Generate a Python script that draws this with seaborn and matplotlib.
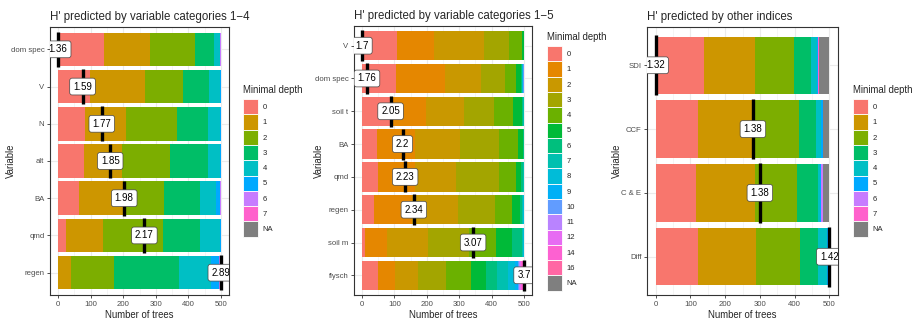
import numpy as np
import pandas as pd
import matplotlib
matplotlib.use("Agg")
import matplotlib.pyplot as plt
from matplotlib.patches import Patch
import seaborn as sns

# ---- data (counts of trees per minimal depth) ----
depths_a = ['0', '1', '2', '3', '4', '5', '6', '7', 'NA']
depths_b = ['0', '1', '2', '3', '4', '5', '6', '7', '8', '9', '10', '11', '12', '14', '16', 'NA']

p1_title = "H' predicted by variable categories 1\u22124"
p1_vars = ['dom spec', 'V', 'N', 'alt', 'BA', 'qmd', 'regen']
p1_counts = [
    [142, 141, 138, 57, 18, 2, 1, 1, 0],
    [98, 168, 119, 80, 32, 2, 1, 0, 0],
    [84, 123, 159, 94, 38, 1, 1, 0, 0],
    [78, 118, 148, 116, 37, 2, 1, 0, 0],
    [65, 135, 124, 111, 50, 11, 4, 0, 0],
    [25, 113, 185, 112, 62, 3, 0, 0, 0],
    [1, 38, 132, 199, 100, 23, 4, 3, 0],
]
p1_mean_labels = ['1.36', '1.59', '1.77', '1.85', '1.98', '2.17', '2.89']
p1_mean_pos = [0, 75, 134, 160, 203, 265, 500]

p2_title = "H' predicted by variable categories 1\u22125"
p2_vars = ['V', 'dom spec', 'soil t', 'BA', 'qmd', 'regen', 'soil m', 'flysch']
p2_counts = [
    [109, 114, 155, 77, 38, 7, 0, 0, 0, 0, 0, 0, 0, 0, 0, 0],
    [104, 151, 112, 75, 35, 13, 3, 2, 2, 1, 2, 0, 0, 0, 0, 0],
    [96, 103, 115, 95, 58, 28, 3, 2, 0, 0, 0, 0, 0, 0, 0, 0],
    [47, 116, 141, 119, 58, 15, 3, 1, 0, 0, 0, 0, 0, 0, 0, 0],
    [49, 114, 128, 132, 54, 15, 6, 2, 0, 0, 0, 0, 0, 0, 0, 0],
    [37, 118, 141, 114, 52, 26, 7, 3, 2, 0, 0, 0, 0, 0, 0, 0],
    [8, 70, 126, 126, 85, 47, 31, 4, 2, 0, 1, 0, 0, 0, 0, 0],
    [48, 53, 71, 87, 76, 47, 36, 33, 20, 12, 3, 3, 3, 4, 4, 0],
]
p2_mean_labels = ['1.7', '1.76', '2.05', '2.2', '2.23', '2.34', '3.07', '3.7']
p2_mean_pos = [0, 15, 88, 125, 133, 160, 343, 500]

p3_title = "H' predicted by other indices"
p3_vars = ['SDI', 'CCF', 'C & E', 'Diff']
p3_counts = [
    [139, 148, 110, 50, 17, 2, 2, 2, 30],
    [122, 158, 134, 47, 15, 5, 2, 0, 17],
    [116, 169, 123, 60, 6, 3, 4, 2, 17],
    [122, 168, 127, 50, 27, 6, 0, 0, 0],
]
p3_mean_labels = ['1.32', '1.38', '1.38', '1.42']
p3_mean_pos = [0, 280, 300, 500]

# ggplot2 hue palettes
pal_a = ['#F8766D', '#CD9600', '#7CAE00', '#00BE67', '#00BFC4', '#00A9FF', '#C77CFF', '#FF61CC', '#7F7F7F']
pal_b = ['#F8766D', '#E58700', '#C99800', '#A3A500', '#6BB100', '#00BA38', '#00BF7D', '#00C0AF',
         '#00BCD8', '#00B0F6', '#619CFF', '#B983FF', '#E76BF3', '#FD61D1', '#FF67A4', '#7F7F7F']

sns.set_theme(style="white")
plt.rcParams['font.family'] = ['Liberation Sans', 'DejaVu Sans']

W, H = 917, 321
fig = plt.figure(figsize=(W / 100, H / 100), dpi=100)


def draw_panel(rect, title, variables, depths, counts, colors, mean_labels, mean_pos,
               ylab_x, leg_xy):
    l, t, r, b = rect
    ax = fig.add_axes([l / W, 1 - b / H, (r - l) / W, (b - t) / H])

    rows = []
    for v, cs in zip(variables, counts):
        for d, c in zip(depths, cs):
            if c > 0:
                rows.append((v, d, c))
    df = pd.DataFrame(rows, columns=['Variable', 'depth', 'count'])
    present = set(df['depth'])
    hue_order = [d for d in depths[::-1] if d in present]
    pal = dict(zip(depths, colors))

    sns.histplot(data=df, y='Variable', hue='depth', weights='count',
                 multiple='stack', discrete=True, shrink=0.9,
                 hue_order=hue_order, palette=pal, alpha=1,
                 linewidth=0, legend=False, ax=ax)

    n = len(variables)
    ypos = np.arange(n)
    ax.vlines(mean_pos, ypos - 0.47, ypos + 0.47, color='black', lw=2.4, zorder=4)
    for x, y, lab in zip(mean_pos, ypos, mean_labels):
        ax.text(x, y, lab, ha='center', va='center', fontsize=7, color='black',
                bbox=dict(boxstyle='round,pad=0.35,rounding_size=0.25', fc='white',
                          ec='#444444', lw=0.5),
                clip_on=True, zorder=5)

    ax.set_xlim(-25, 525)
    ax.set_ylim(n - 0.4, -0.6)
    ax.set_xticks(range(0, 501, 100))
    ax.set_xticks(range(50, 500, 100), minor=True)
    ax.set_yticks(ypos)
    ax.set_yticklabels(variables)
    ax.grid(which='major', color='#EBEBEB', lw=0.8)
    ax.grid(which='minor', axis='x', color='#F2F2F2', lw=0.5)
    ax.set_axisbelow(True)
    for s in ax.spines.values():
        s.set_color('#333333')
        s.set_linewidth(0.8)
    ax.tick_params(which='major', length=2.5, width=0.6, color='#333333',
                   labelsize=5.6, labelcolor='#4D4D4D', pad=1.5,
                   left=True, bottom=True)
    ax.tick_params(which='minor', length=0)
    ax.set_xlabel('Number of trees', fontsize=6.9, labelpad=1.5)
    ax.set_ylabel('Variable', fontsize=6.9)
    ax.yaxis.set_label_coords(ylab_x, 0.5)
    ax.set_title(title, loc='left', fontsize=8.3, pad=5)

    handles = [Patch(facecolor=c, edgecolor='white', lw=0.6, label=d)
               for d, c in zip(depths, colors)]
    leg = fig.legend(handles=handles, loc='upper left',
                     bbox_to_anchor=(leg_xy[0] / W, 1 - leg_xy[1] / H),
                     frameon=False, fontsize=5.5, title='Minimal depth', title_fontsize=6.9,
                     handlelength=2.0, handleheight=2.7, labelspacing=0,
                     handletextpad=0.6, borderpad=0, borderaxespad=0, alignment='left')
    leg._legend_box.sep = 3
    return ax


draw_panel((50, 27, 229, 295), p1_title, p1_vars, depths_a, p1_counts, pal_a,
           p1_mean_labels, p1_mean_pos, -0.19, (243, 85))
draw_panel((354, 26, 532, 295), p2_title, p2_vars, depths_b, p2_counts, pal_b,
           p2_mean_labels, p2_mean_pos, -0.17, (547, 32))
draw_panel((647, 27, 838, 295), p3_title, p3_vars, depths_a, p3_counts, pal_a,
           p3_mean_labels, p3_mean_pos, -0.13, (853, 85))

fig.savefig('out.png', dpi=100)
